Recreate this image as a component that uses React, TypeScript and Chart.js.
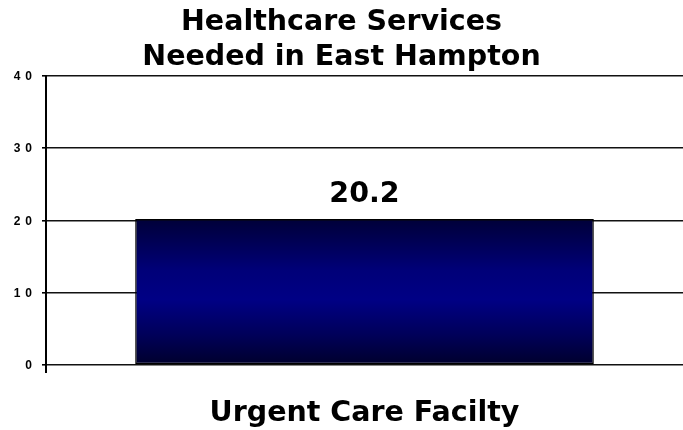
import React, { useEffect, useRef } from "react";
import { Chart, registerables } from "chart.js";

Chart.register(...registerables);

const titleLines = ["Healthcare Services", "Needed in East Hampton"];
const categories = ["Urgent Care Facilty"];
const values = [20.2];
const yMin = 0;
const yMax = 40;
const yStep = 10;

const FONT = "'DejaVu Sans', Verdana, sans-serif";

const extrasPlugin = {
  id: "extras",
  afterDraw(chart: any) {
    const ctx = chart.ctx;
    const y = chart.scales.y;
    const area = chart.chartArea;
    ctx.save();
    // axis tail below zero
    ctx.strokeStyle = "#000";
    ctx.lineWidth = 2;
    ctx.beginPath();
    ctx.moveTo(area.left, area.bottom);
    ctx.lineTo(area.left, area.bottom + 8);
    ctx.stroke();
    // y tick labels with tracking
    ctx.fillStyle = "#000";
    ctx.font = "bold 12px 'Liberation Sans', Arial, sans-serif";
    ctx.textAlign = "right";
    ctx.textBaseline = "middle";
    try { (ctx as any).letterSpacing = "5px"; } catch (e) {}
    y.ticks.forEach((t: any) => {
      const py = y.getPixelForValue(t.value);
      ctx.fillText(String(t.value), area.left - 9, py + 1);
    });
    try { (ctx as any).letterSpacing = "0px"; } catch (e) {}
    // value labels
    ctx.font = `bold 28.5px ${FONT}`;
    ctx.textAlign = "center";
    ctx.textBaseline = "alphabetic";
    const meta = chart.getDatasetMeta(0);
    meta.data.forEach((bar: any, i: number) => {
      ctx.fillText(String(values[i]), bar.x, bar.y - 17);
    });
    ctx.restore();
  },
};

export default function App() {
  const ref = useRef<HTMLCanvasElement | null>(null);
  useEffect(() => {
    if (!ref.current) return;
    const chart = new Chart(ref.current, {
      type: "bar",
      data: {
        labels: categories,
        datasets: [
          {
            data: values,
            backgroundColor: (c: any) => {
              const ch = c.chart;
              const ys = ch.scales && ch.scales.y;
              if (!ch.chartArea || !ys) return "#000080";
              const top = ys.getPixelForValue(values[c.dataIndex ?? 0]);
              const bot = ys.getPixelForValue(0);
              const g = ch.ctx.createLinearGradient(0, top, 0, bot);
              g.addColorStop(0, "#000038");
              g.addColorStop(0.35, "#000078");
              g.addColorStop(0.55, "#000085");
              g.addColorStop(0.8, "#000058");
              g.addColorStop(1, "#00002c");
              return g;
            },
            borderColor: "#000",
            borderWidth: 1.5,
            borderSkipped: false,
            categoryPercentage: 1,
            barPercentage: 0.72,
          },
        ],
      },
      options: {
        responsive: false,
        animation: false,
        layout: { padding: 0 },
        plugins: {
          legend: { display: false },
          tooltip: { enabled: false },
          title: {
            display: true,
            text: titleLines,
            color: "#000",
            font: { family: FONT, weight: "bold", size: 28.5, lineHeight: 1.23 },
            padding: { top: 5.3, bottom: 0.4 },
          },
        },
        scales: {
          x: {
            grid: { display: false },
            border: { display: false },
            ticks: {
              color: "#000",
              font: { family: FONT, weight: "bold", size: 28.5 },
              padding: 23,
              maxRotation: 0,
              autoSkip: false,
            },
            afterFit: (s: any) => {
              s.height = 65;
            },
          },
          y: {
            min: yMin,
            max: yMax,
            ticks: { stepSize: yStep, display: false },
            grid: {
              color: "#111",
              lineWidth: 1.6,
              drawTicks: true,
              tickLength: 4,
              tickColor: "#000",
            },
            border: { display: true, color: "#000", width: 2 },
            afterFit: (s: any) => {
              s.width = 46;
            },
          },
        },
      },
      plugins: [extrasPlugin],
    });
    return () => chart.destroy();
  }, []);
  return (
    <div style={{ position: "absolute", left: 0, top: 0, width: 683, height: 430, background: "#fff" }}>
      <canvas ref={ref} width={683} height={430} style={{ display: "block" }} />
    </div>
  );
}
